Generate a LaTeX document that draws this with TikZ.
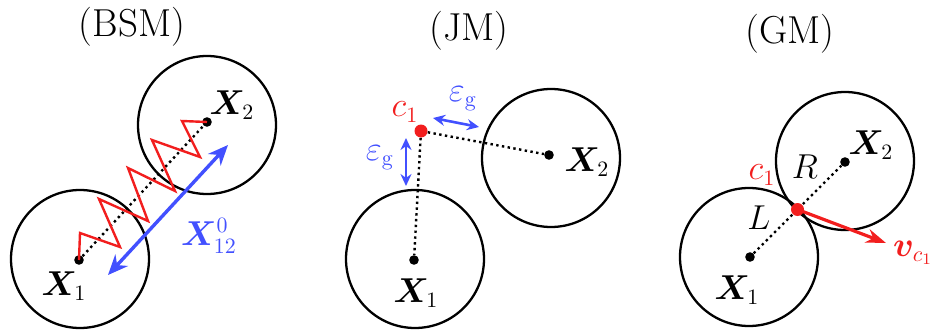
\documentclass[tikz,border=0pt]{standalone}
\usepackage{amsmath}
\usepackage{bm}
\usepackage{xcolor}
\usetikzlibrary{arrows.meta, positioning}
\definecolor{sprred}{RGB}{242,30,30}
\definecolor{gapblue}{RGB}{66,80,255}

\begin{document}
\begin{tikzpicture}[
    x=0.5pt, y=0.5pt,
    title/.style={font=\fontsize{19.5}{22}\selectfont},
    lbl/.style={font=\fontsize{16}{19}\selectfont, inner sep=1pt},
    ball/.style={draw=black, line width=1.15pt},
    centre/.style={circle, fill=black, inner sep=0pt, minimum size=4.8pt},
    contact/.style={circle, fill=sprred, inner sep=0pt, minimum size=6.5pt},
    link/.style={line width=1.2pt, dash pattern=on 1.2pt off 1.7pt},
    spring/.style={draw=sprred, line width=1.2pt, line join=miter},
    gap/.style={{Stealth[length=6pt,width=5.5pt]}-{Stealth[length=6pt,width=5.5pt]}, gapblue, line width=1.3pt},
    bigGap/.style={{Stealth[length=10pt,width=8.5pt]}-{Stealth[length=10pt,width=8.5pt]}, gapblue, line width=1.7pt},
    push/.style={-{Stealth[length=10pt,width=7pt]}, sprred, line width=1.6pt}
]
\useasboundingbox (0,0) rectangle (933,333);

% (BSM)
\node[title] (bsm) at (132,306.5) {(BSM)};
\draw[ball] (80,74) circle [radius=69];
\draw[ball] (207,208) circle [radius=69];
\node[centre] (b1) at (79,73) {};
\node[centre] (b2) at (207,211) {};
\draw[link] (b1) -- (b2);
\draw[spring] (b1.center) -- (80,100) -- (120,86) -- (99,134) -- (148,112) -- (128,165)
    -- (175,142) -- (152,193) -- (200,176) -- (182,212) -- (b2.center);
\node[lbl] (b1lbl) at (64,47) {$\bm{X}_1$};
\node[lbl] (b2lbl) at (232,228) {$\bm{X}_2$};
\coordinate (bA) at (108,58);
\coordinate (bB) at (228,188);
\draw[bigGap] (bA) -- (bB);
\node[lbl, text=gapblue] (b12) at (209,97) {$\bm{X}^{0}_{12}$};

% (JM)
\node[title] (jm) at (469,302) {(JM)};
\draw[ball] (415,74) circle [radius=69];
\draw[ball] (551,175) circle [radius=69];
\node[centre] (j1) at (414,73) {};
\node[centre] (j2) at (549,178) {};
\node[contact] (jc) at (421,202) {};
\draw[link] (jc) -- (j1);
\draw[link] (jc) -- (j2);
\node[lbl] (j1lbl) at (416,40) {$\bm{X}_1$};
\node[lbl] (j2lbl) at (587,171) {$\bm{X}_2$};
\node[lbl, text=sprred] (jclbl) at (405,221) {$c_1$};
\coordinate (jv1) at (406,195);
\coordinate (jv2) at (406,147);
\draw[gap] (jv1) -- (jv2);
\coordinate (jh1) at (433,215);
\coordinate (jh2) at (479,206);
\draw[gap] (jh1) -- (jh2);
\node[lbl, text=gapblue] (jvlbl) at (380,175) {$\varepsilon_{\mathrm{g}}$};
\node[lbl, text=gapblue] (jhlbl) at (463,234) {$\varepsilon_{\mathrm{g}}$};

% (GM)
\node[title] (gm) at (790,299.5) {(GM)};
\draw[ball] (749,76) circle [radius=69];
\draw[ball] (845,172) circle [radius=69];
\node[centre] (g1) at (750,76) {};
\node[centre] (g2) at (845,171) {};
\draw[link] (g1) -- (g2);
\node[contact] (gc) at (797.5,123.5) {};
\node[lbl] (g1lbl) at (737,43) {$\bm{X}_1$};
\node[lbl] (g2lbl) at (871,188) {$\bm{X}_2$};
\node[lbl] (gR) at (805,166) {$R$};
\node[lbl] (gL) at (759,115) {$L$};
\node[lbl, text=sprred] (gclbl) at (762,158) {$c_1$};
\coordinate (gv) at (886,90);
\draw[push] (gc.center) -- (gv);
\node[lbl, text=sprred] (gvlbl) at (913,80) {$\bm{v}_{c_1}$};
\end{tikzpicture}
\end{document}
